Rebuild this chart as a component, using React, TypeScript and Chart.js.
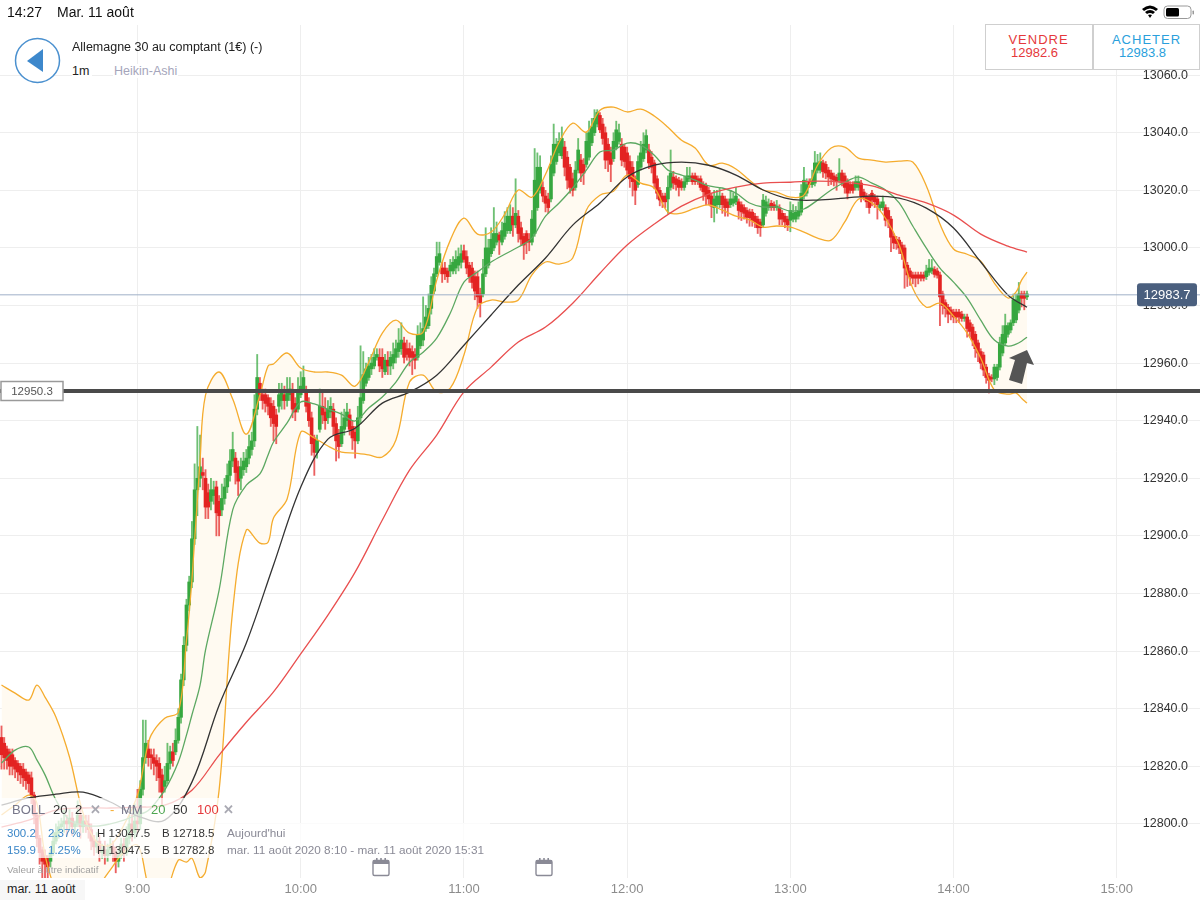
import React, { useEffect, useRef } from "react";
import { Chart, registerables } from "chart.js";

Chart.register(...registerables);

// Candles, one per minute from 8:10 (index 0).
const candleOpen = [
12830,12828,12826,12825,12824,12822,12821,12820,12819,12818,
12817,12816,12810,12803,12795,12791,12789,12788,12787,12790,
12794,12797,12799,12800,12801,12800,12802,12799,12800,12803,
12799,12801,12800,12798,12794,12792,12794,12790,12791,12789,
12791,12792,12790,12787,12789,12793,12790,12795,12800,12797,
12801,12800,12812,12823,12826,12824,12823,12822,12821,12817,
12813,12815,12821,12825,12825,12829,12837,12850,12862,12876,
12884,12899,12916,12920,12922,12920,12915,12912,12914,12917,
12912,12909,12913,12917,12921,12926,12927,12924,12920,12923,
12924,12927,12930,12933,12944,12953,12949,12949,12948,12946,
12945,12942,12945,12947,12949,12947,12949,12950,12946,12944,
12949,12951,12950,12946,12941,12934,12929,12937,12945,12943,
12941,12943,12944,12939,12935,12932,12937,12940,12942,12938,
12936,12933,12941,12947,12953,12955,12958,12959,12962,12962,
12962,12957,12961,12959,12960,12962,12964,12965,12967,12965,
12965,12964,12963,12962,12966,12968,12972,12973,12979,12985,
12991,12995,12993,12993,12992,12992,12992,12993,12994,12995,
12999,12997,12994,12993,12990,12990,12984,12984,12991,12994,
12998,13000,13002,13004.5,13002,13004,13006,13006,13011,13008,
13011,13007,13004,13005,13003,13002,13005,13014,13020,13021,
13018,13017,13017,13026,13030,13033,13032,13035,13031.5,13028,
13024,13021,13027,13030.5,13029,13029,13031.5,13036.5,13040,13043,
13046,13043,13040,13036,13033,13031,13035,13037,13036,13035,
13033,13030,13028,13024,13022,13028,13031,13034,13034,13031.5,
13029.5,13024,13020,13018,13018,13017,13021,13024.6,13024,13023.5,
13023,13021,13023,13024,13025,13025,13024,13024,13022,13021.5,
13020,13018,13014,13015,13015,13018,13017,13016,13015,13015.5,
13016,13016,13015,13014,13013,13012.5,13012.4,13011,13010,13009,
13008,13012,13014,13015.5,13015,13014,13014,13012,13011,13010,
13009.6,13010,13010,13011,13012.4,13018,13019,13023,13022,13022.5,
13027,13027,13029.5,13029,13027,13026,13025,13024.5,13023.5,13026,
13025,13023,13022,13022,13021,13021,13022.5,13019.4,13018,13017.6,
13019,13017.6,13017,13014,13014,13014,13013,13010,13004,13003,
13002.7,13001,13000,12994,12992,12990.6,12990.6,12990.6,12990.6,12990.6,
12990,12991.5,12992,12992.5,12992,12990.6,12984,12981,12979.4,12978.5,
12977.7,12977.7,12977.7,12977,12975.5,12976,12974,12972.5,12970,12967,
12964,12962.8,12958.6,12955.5,12955,12954.5,12955,12958.6,12963.5,12967,
12970,12971.5,12974,12975,12978.4,12984,12984,12983];

const candleClose = [
12824,12823,12822,12820,12820,12819,12818,12817,12816,12815,
12814,12810,12803,12795,12790,12787,12786,12785,12790,12794,
12797,12799,12800,12801,12800,12802,12799,12800,12803,12799,
12801,12800,12798,12794,12792,12794,12790,12791,12789,12791,
12792,12790,12787,12789,12793,12790,12795,12800,12797,12801,
12800,12812,12823,12828,12823,12823,12821,12820,12816,12811,
12815,12821,12825,12822,12829,12837,12850,12862,12876,12884,
12899,12916,12920,12924,12921,12910,12910,12916,12916,12908,
12907,12913,12917,12921,12926,12930,12922,12919,12924,12926,
12927,12931,12933,12944,12955,12949,12947,12946,12945,12941,
12939,12938,12949,12950,12947,12950,12951,12944,12943,12950,
12952,12955,12945,12940,12932,12929,12933,12945,12942,12940,
12944,12945,12938,12933,12931,12938,12941,12943,12937,12934,
12933,12941,12948,12956,12958,12959,12960,12962,12963,12959,
12958,12961,12959,12962,12963,12965,12967,12968,12962,12963,
12962,12962,12961,12970,12970,12972,12976,12979,12987,12991,
12997,12998,12991,12991,12990,12994,12995,12996,12997,12998,
12996,12993,12990,12988,12985,12983,12981,12991,13000,13000,
13003,13005,13005,13002.7,13006,13008.6,13011,13011,13008,13012,
13005,13003,13001,13002,13002,13010,13023.5,13028,13028,13018,
13015.5,13014,13029,13036,13036,13037,13038,13028,13023.5,13021,
13020,13027,13034,13026,13026,13037,13040,13042,13045,13047,
13041,13038,13030.5,13030.5,13029,13037,13041,13040,13030.5,13030,
13027,13024,13023,13020,13030,13033,13036,13039,13029.5,13028,
13022.5,13019,13016.6,13016,13016,13021,13026,13022.5,13022,13021,
13021,13023,13025,13025,13023,13023,13023,13021,13019.5,13018,
13017,13014.5,13017,13018,13018,13015,13014,13014,13017,13017,
13018,13013,13012.5,13012,13010.6,13010.5,13009.5,13009,13007,13007,
13016.6,13016,13015,13014,13014,13014.5,13010,13010,13009,13008,
13013,13012,13012.4,13013,13019,13023.5,13022,13022,13024,13029.5,
13029.5,13030,13026.5,13026,13024.6,13024,13023.5,13023,13026,13022.5,
13021,13019,13020,13020,13023,13023,13018,13017.6,13016,13014,
13016.6,13016,13015,13015,13016,13009.6,13010,13003.7,13001.7,13001.5,
13000,12998,12993,12990.6,12990,12989.5,12989.5,12989.5,12989.5,12989.5,
12992,12993,12993,12990.8,12990.5,12983,12980,12979,12977,12977,
12976,12976,12976,12975.5,12976,12972,12971,12968,12965,12963.5,
12960,12957.6,12955,12954,12954.5,12958.6,12958.6,12967,12970,12973,
12973,12974,12982,12982,12984,12982.5,12982.5,12984];

// Shadow length above the top and below the bottom of each body.
const wickUp = [
4,2,1,1,2,1,1,1,2,1, 1,2,1,1,1,1,2,1,1,3, 3,2,2,4,2,3,2,1,5,3, 2,2,3,2,2,3,2,2,3,2,
3,2,2,3,2,2,4,3,3,6, 11,3,13,8,3,2,3,2,2,2, 5,7,2,3,4,3,2,3,2,2, 6,9,18,11,5,3,3,4,3,2,
2,5,3,4,4,6,2,2,3,3, 3,4,3,5,8,2,2,2,1,2, 2,2,4,3,3,5,4,3,2,5, 5,4,2,2,2,1,2,6,5,5,
3,3,2,2,2,5,3,3,2,2, 2,4,18,8,2,3,3,3,2,3, 3,2,3,2,4,3,5,6,2,3, 2,2,2,3,4,11,4,5,3,2,
5,4,2,2,1,2,2,3,3,3, 2,2,1,2,2,2,2,5,7,3, 4,9,4,1,3,4,3,4,3,12, 2,2,1,1,2,3,11,5,4,2,
2,2,3,7,2,3,4,2,2,1, 2,3,4,2,2,3,4,3,3,1, 1,2,2,2,2,3,3,3,2,1, 2,2,2,1,2,4,4,2,2,2,
1,1,1,1,1,4,8,2,1,1, 1,2,3,3,1,1,1,1,1,1, 1,1,3,2,3,1,1,1,3,2, 3,1,1,1,1,1,1,1,1,1,
2,2,2,1,1,2,1,1,1,1, 3,3,2,3,3,4.5,2,1,3,4, 3,3,1,1,1,1,1,1,5,1, 1,1,1,1,2,2,1,1,1,1,
1,1,1,1,2,1,1,1,1,1, 1,1,1,1,1,1,1,1,1,1, 2,3,3,1,1,1,1,1,1,1, 1,1,1,1,1,1,1,1,1,1,
1,1,1,1,1,1,1,2,3,4, 1,1,2,2,4,1,1,1];

const wickDown = [
5,4,3,3,3,3,3,3,3,3, 3,3,3,3,4,6,5,5,2,1, 1,2,1,3,4,2,3,2,1,4, 2,3,3,3,3,2,3,2,3,2,
2,3,4,2,1,3,1,2,3,2, 3,2,2,2,3,4,4,5,5,5, 2,1,2,2,1,1,2,2,2,2, 2,2,9,3,5,4,4,3,3,8,
7,2,2,2,2,2,4,5,4,2, 2,2,2,2,2,2,3,3,3,3, 6,6,2,3,3,2,2,3,3,1, 1,1,2,2,4,8,2,1,3,3,
2,2,3,7,4,1,2,2,2,4, 6,1,2,1,1,1,2,1,1,2, 3,1,3,3,2,2,2,2,2,2, 3,6,3,1,1,2,1,1,2,1,
1,1,3,2,2,2,1,2,2,2, 1,2,2,2,3,4,5,1,1,1, 1,1,1,5,1,1,1,1,4,1, 3,2,5,4,3,1,1,1,1,2,
3,2,1,1,1,1,1,3,3,2, 2,1,1,3,4,1,1,1,1,1, 1,2,3,4,6,1,1,1,2,2, 2,3,5,5,1,1,1,1,2,2,
2,2,2,2,2,5,1,2,2,3, 1,1,1,1,1,1,1,1,3,3, 2,4,5,3,1,3,3,3,1,1, 1,3,3,2,2,3,2,2,2,3,
1,1,1,1,1,1,2,2,2,2, 4,1,1,1,1,1,1,1,1,1, 1,1,2,2,3,2,2,3,1,1, 2,2,1,1,1,1,2,1,2,2,
2,2,5,1,1,2,3,5,2,2, 2,2,7,4,3,2,3,2,1,1, 1,1,1,1,1,10,3,3,3,2, 2,2,2,1,1,3,2,2,3,3,
2,2,2,4.4,1,2,1,1,1,1, 1,1,1,1,1,3,4,1];

// Bollinger band and 20-period average, read at these minute indexes.
const bandMinutes = [0,5,10,13,16,20,25,30,35,40,45,50,53,55,60,65,68,70,73,75,80,85,90,95,98,100,105,110,115,120,125,130,135,140,145,150,155,160,165,170,175,180,185,190,195,200,205,210,215,220,225,230,235,240,245,250,255,260,265,270,275,280,285,290,295,300,305,310,315,320,325,330,335,340,345,350,355,360,365,370,373,375,377];

const bollUpper = [12848.2,12845.4,12843,12848.2,12844,12837.1,12823.2,12803.7,12793.7,12792.6,12799.6,12810,12823.9,12830.8,12836.7,12838.8,12863.8,12884.7,12926.3,12948.9,12956.9,12947.5,12935.3,12948.9,12959,12959.7,12963.5,12958.3,12956.9,12956.9,12955.8,12952,12960.3,12970.4,12974.9,12970.4,12970.8,12988.8,13002.7,13010.3,13004.8,13005.5,13011.7,13020.1,13017.6,13025.6,13036.7,13043.3,13040.2,13047.8,13048.9,13047.2,13048.2,13045.8,13041.9,13037.4,13034.7,13028.7,13029.4,13027.4,13023.5,13020.1,13019.4,13017.6,13018.3,13028.7,13034.7,13035,13031.2,13030.5,13029.8,13030.1,13029.8,13021.5,13008.3,12999.6,12997.8,12995.4,12987.8,12982.6,12984.7,12988.8,12991.6];

const bollLower = [12803.1,12806.5,12810,12807.2,12789.2,12777,12771.8,12773.5,12777.7,12784,12790.2,12792.6,12782.2,12771.8,12775.3,12787.4,12786.7,12788.1,12781.2,12783.3,12811.7,12874.2,12902,12897.5,12897.8,12906.2,12912.8,12936,12934,12931.2,12929.1,12928.7,12928.1,12927.4,12933.3,12953.4,12955.8,12950,12951.3,12962.8,12979.4,12981.9,12981.2,12981.9,12990.6,12995.1,12994.4,12996.5,13013.1,13018.3,13019.7,13025.3,13022.5,13020.8,13012.4,13012.1,13013.8,13014.9,13013.1,13011,13009.7,13007.2,13007.6,13007.2,13005.5,13003.4,13002.7,13009,13016.9,13015.6,13010.3,13001,12986,12979.4,12980.8,12976.3,12970.4,12961.7,12950.6,12949.2,12949.6,12947.8,12946.1];

const ma20 = [12821.1,12825.6,12826.7,12822.2,12817,12808.3,12801.3,12799.6,12799.2,12800,12801.3,12803.1,12804.1,12805.5,12811.7,12821.5,12830.8,12837.8,12848.2,12860.3,12881.2,12909,12917.6,12921.5,12928.1,12932.6,12939.2,12946.5,12945.8,12944,12942.3,12939.9,12944.4,12948.2,12953.4,12960.3,12963.8,12968.7,12977.4,12988.1,12991.6,12995.1,12997.8,13000.3,13003.4,13011,13015.6,13020.8,13027,13033.3,13034,13036.4,13035.7,13032.2,13027,13025.3,13023.5,13021.5,13020.8,13019,13015.6,13014.2,13014.2,13012.8,13013.5,13016.6,13020.1,13022.8,13024.6,13022.5,13020.1,13015.6,13007.6,12999.9,12993,12988.1,12982.6,12974.9,12968,12965.9,12966.6,12967.6,12969];

// Slow averages, read at these minute indexes.
const slowMinutes = [0,10,20,30,40,50,60,70,80,90,100,110,120,130,140,150,160,170,180,190,200,210,220,230,240,250,260,270,280,290,300,310,320,330,340,350,360,370,377];

const ma50 = [12806.5,12809,12810.3,12811,12807.6,12802.7,12801.3,12814.5,12841.2,12862.8,12889.9,12916.9,12933.6,12937.4,12946.1,12949.9,12955.8,12966.2,12976.7,12987.1,12996.5,13007.9,13015.6,13024.6,13028.7,13029.8,13028.7,13025.3,13020.1,13016.9,13016.6,13017.3,13018,13017.3,13013.8,13006.9,12995.1,12983.6,12979.4];

const ma100 = [12798.9,12801.3,12804.8,12805.5,12805.5,12805.8,12806.5,12811.7,12823.9,12835.3,12845.8,12859,12872.5,12887.4,12905.5,12922.8,12935,12950,12958.6,12967.3,12972.5,12980.8,12991.2,13001,13008.3,13014.5,13018.7,13021.1,13022.5,13022.8,13023.2,13022.8,13021.5,13018.3,13015.6,13011.4,13004.8,13000.6,12998.5];

const supportLevel = 12950.3;
const currentLevel = 12983.7;
const priceTicks = [12800,12820,12840,12860,12880,12900,12920,12940,12960,12980,13000,13020,13040,13060];
const hourTicks = [50,110,170,230,290,350,410];
const hourLabels = ["9:00","10:00","11:00","12:00","13:00","14:00","15:00"];

const FONT = '"Liberation Sans", Arial, sans-serif';
const X_MIN = -0.55;
const X_MAX = 440.6;
const GREEN = "#36a73f";
const RED = "#e32322";

const pts = (xs: number[], ys: number[]) => xs.map((x, i) => ({ x, y: ys[i] }));

const tagsPlugin = {
  id: "priceTags",
  afterDraw(chart: any) {
    const { ctx, scales } = chart;
    const sy = scales.y.getPixelForValue(supportLevel);
    const cy = scales.y.getPixelForValue(currentLevel);
    ctx.save();
    ctx.textBaseline = "middle";
    ctx.textAlign = "center";
    ctx.fillStyle = "#ffffff";
    ctx.strokeStyle = "#9a9a9a";
    ctx.lineWidth = 1.5;
    ctx.beginPath();
    ctx.rect(1, sy - 9.5, 62, 19);
    ctx.fill();
    ctx.stroke();
    ctx.fillStyle = "#555555";
    ctx.font = `11.5px ${FONT}`;
    ctx.fillText(supportLevel.toFixed(1), 32, sy + 0.5);
    ctx.fillStyle = "#4a5f7e";
    ctx.beginPath();
    ctx.roundRect(1137, cy - 11.5, 60, 23, 3);
    ctx.fill();
    ctx.fillStyle = "#ffffff";
    ctx.font = `13px ${FONT}`;
    ctx.fillText(currentLevel.toFixed(1), 1167, cy + 0.5);
    ctx.restore();
  },
};

const abs = (x: number, y: number, extra: React.CSSProperties = {}): React.CSSProperties => ({
  position: "absolute",
  left: x,
  top: y,
  whiteSpace: "nowrap",
  lineHeight: "14px",
  ...extra,
});

function Calendar({ x }: { x: number }) {
  return (
    <svg style={{ position: "absolute", left: x, top: 857 }} width="20" height="20" viewBox="0 0 20 20">
      <rect x="2" y="3.5" width="16" height="15" rx="1.5" fill="#fff" stroke="#8a8a96" strokeWidth="1.4" />
      <rect x="2" y="3.5" width="16" height="3.5" fill="#8a8a96" />
      <rect x="5" y="1" width="1.6" height="4" fill="#8a8a96" />
      <rect x="9.2" y="1" width="1.6" height="4" fill="#8a8a96" />
      <rect x="13.4" y="1" width="1.6" height="4" fill="#8a8a96" />
    </svg>
  );
}

export default function App() {
  const ref = useRef<HTMLCanvasElement>(null);

  useEffect(() => {
    const minutes = candleOpen.map((_, i) => i);
    const top = candleOpen.map((o, i) => Math.max(o, candleClose[i]));
    const bottom = candleOpen.map((o, i) => Math.min(o, candleClose[i]));
    const rising = candleOpen.map((o, i) => candleClose[i] >= o);
    const line = (data: any[], color: string, width: number, order: number, tension = 0.35) => ({
      type: "line" as const,
      data,
      borderColor: color,
      borderWidth: width,
      pointRadius: 0,
      tension,
      fill: false,
      order,
    });
    const chart = new Chart(ref.current as HTMLCanvasElement, {
      type: "bar",
      data: {
        datasets: [
          {
            ...line(pts(bandMinutes, bollUpper), "rgba(0,0,0,0)", 0, 20),
            fill: "+1",
            backgroundColor: "#fffaf1",
          },
          line(pts(bandMinutes, bollLower), "rgba(0,0,0,0)", 0, 20),
          {
            type: "bar" as const,
            data: minutes.map((x) => ({ x, y: [bottom[x] - wickDown[x], top[x] + wickUp[x]] })),
            backgroundColor: rising.map((r) => (r ? "rgba(54,167,63,0.72)" : "rgba(227,35,34,0.72)")),
            barThickness: 1.2,
            grouped: false,
            order: 10,
          },
          {
            type: "bar" as const,
            data: minutes.map((x) => ({ x, y: [bottom[x], top[x]] })),
            backgroundColor: rising.map((r) => (r ? GREEN : RED)),
            barThickness: 3,
            minBarLength: 1.5,
            grouped: false,
            order: 9,
          },
          line(pts(bandMinutes, bollUpper), "#f5ac2e", 1.3, 5),
          line(pts(bandMinutes, bollLower), "#f5ac2e", 1.3, 5),
          line(pts(bandMinutes, ma20), "#5ca862", 1.3, 4),
          line(pts(slowMinutes, ma50), "#333333", 1.3, 3),
          line(pts(slowMinutes, ma100), "#e94f4f", 1.3, 3),
          line([{ x: X_MIN, y: currentLevel }, { x: X_MAX, y: currentLevel }], "#9fb0c8", 1, 2, 0),
          line([{ x: X_MIN, y: supportLevel }, { x: X_MAX, y: supportLevel }], "#4a4a4a", 4, 1, 0),
        ] as any,
      },
      options: {
        responsive: false,
        animation: false,
        events: [],
        layout: { padding: { top: 25, left: 0, right: 0, bottom: 0 } },
        plugins: { legend: { display: false }, tooltip: { enabled: false } },
        scales: {
          x: {
            type: "linear",
            offset: false,
            min: X_MIN,
            max: X_MAX,
            afterFit: (s: any) => {
              s.height = 22;
            },
            afterBuildTicks: (s: any) => {
              s.ticks = hourTicks.map((value) => ({ value }));
            },
            grid: { color: "#eeeeee", offset: false, drawTicks: false, lineWidth: 1 },
            border: { display: false },
            ticks: {
              autoSkip: false,
              maxRotation: 0,
              padding: 4,
              color: "#8c8c8c",
              font: { family: FONT, size: 13 },
              callback: (v: any) => hourLabels[hourTicks.indexOf(Number(v))] ?? "",
            },
          },
          y: {
            type: "linear",
            position: "right",
            min: 12781.2,
            max: 13077.4,
            afterFit: (s: any) => {
              s.width = 0;
            },
            afterBuildTicks: (s: any) => {
              s.ticks = priceTicks.map((value) => ({ value }));
            },
            grid: { color: "#eeeeee", drawTicks: false, lineWidth: 1 },
            border: { display: false },
            ticks: {
              mirror: true,
              padding: -12,
              color: "#333333",
              font: { family: FONT, size: 12.5 },
              callback: (v: any) => Number(v).toFixed(1),
            },
          },
        },
      } as any,
      plugins: [tagsPlugin],
    });
    return () => chart.destroy();
  }, []);

  const small: React.CSSProperties = { fontSize: 11.5, color: "#333" };
  const blue: React.CSSProperties = { fontSize: 11.5, color: "#3a86c8" };
  const grey: React.CSSProperties = { fontSize: 11.75, color: "#8a8a96" };
  const legend: React.CSSProperties = { fontSize: 13, color: "#333" };

  return (
    <div style={{ position: "absolute", left: 0, top: 0, width: 1200, height: 900, background: "#fff", fontFamily: FONT, overflow: "hidden" }}>
      <canvas ref={ref} width={1200} height={900} style={{ position: "absolute", left: 0, top: 0, display: "block" }} />

      {/* Status bar */}
      <div style={abs(7, 5, { fontSize: 14, color: "#111" })}>14:27</div>
      <div style={abs(57, 5, { fontSize: 14, color: "#111" })}>Mar. 11 août</div>
      <svg style={{ position: "absolute", left: 1140, top: 3 }} width="58" height="18" viewBox="0 0 58 18">
        <path d="M2 6 Q10 -1 18 6 L16 8 Q10 3 4 8 Z M5 9 Q10 5 15 9 L13 11 Q10 9 7 11 Z M8 12 Q10 11 12 12 L10 15 Z" fill="#000" />
        <rect x="24" y="3" width="27" height="12.5" rx="3.5" fill="#fff" stroke="#999" strokeWidth="1" />
        <rect x="26" y="5" width="13" height="8.5" rx="1.5" fill="#000" />
        <rect x="52.5" y="7.5" width="1.5" height="4" rx="0.7" fill="#999" />
      </svg>

      {/* Instrument header */}
      <svg style={{ position: "absolute", left: 14, top: 37 }} width="48" height="48" viewBox="0 0 48 48">
        <circle cx="23.5" cy="23.5" r="22" fill="#fff" stroke="#4a90cf" strokeWidth="1.5" />
        <path d="M13 24 L29 12 L29 35 Z" fill="#3d88cc" />
      </svg>
      <div style={abs(72, 40, { fontSize: 12.5, color: "#222" })}>Allemagne 30 au comptant (1€) (-)</div>
      <div style={abs(72, 64, { fontSize: 12.5, color: "#222", background: "#fff", paddingRight: 3 })}>1m</div>
      <div style={abs(113, 64, { fontSize: 12.5, color: "#a5a5bb", background: "#fff", padding: "0 1px" })}>Heikin-Ashi</div>

      {/* Deal buttons */}
      <div style={{ position: "absolute", left: 985, top: 24, width: 215, height: 46, background: "#fff", border: "1.5px solid #cfcfcf", boxSizing: "border-box" }} />
      <div style={{ position: "absolute", left: 1092, top: 24, width: 1.5, height: 46, background: "#cfcfcf" }} />
      <div style={abs(985, 33, { width: 107, textAlign: "center", fontSize: 13, letterSpacing: 1, color: "#e5383b" })}>VENDRE</div>
      <div style={abs(985, 46, { width: 107, textAlign: "center", fontSize: 13, color: "#e5383b", paddingRight: 8, boxSizing: "border-box" })}>12982.6</div>
      <div style={abs(1093, 33, { width: 107, textAlign: "center", fontSize: 13, letterSpacing: 1, color: "#2a9fdc" })}>ACHETER</div>
      <div style={abs(1093, 46, { width: 107, textAlign: "center", fontSize: 13, color: "#2a9fdc", paddingRight: 8, boxSizing: "border-box" })}>12983.8</div>

      {/* Arrow */}
      <svg style={{ position: "absolute", left: 1000, top: 345 }} width="40" height="45" viewBox="0 0 40 45">
        <polygon points="27,5 34,20 27,18 22,39 9,35 15,15 9,13" fill="#555555" />
      </svg>

      {/* Indicators panel */}
      <div style={{ position: "absolute", left: 0, top: 798, width: 240, height: 25, background: "rgba(255,255,255,0.75)" }} />
      <div style={{ position: "absolute", left: 0, top: 823, width: 490, height: 35, background: "rgba(255,255,255,0.75)" }} />
      <div style={abs(12, 803, { ...legend, color: "#77778a" })}>BOLL</div>
      <div style={abs(53, 803, legend)}>20</div>
      <div style={abs(75, 803, legend)}>2</div>
      <div style={abs(90, 803, { ...legend, color: "#a9a9b2", fontWeight: 700 })}>✕</div>
      <div style={abs(110, 803, { ...legend, color: "#f5ac2e" })}>-</div>
      <div style={abs(121, 803, { ...legend, color: "#77778a" })}>MM</div>
      <div style={abs(151, 803, { ...legend, color: "#4da650" })}>20</div>
      <div style={abs(173, 803, legend)}>50</div>
      <div style={abs(197, 803, { ...legend, color: "#e5383b" })}>100</div>
      <div style={abs(223, 803, { ...legend, color: "#a9a9b2", fontWeight: 700 })}>✕</div>

      <div style={abs(7, 826, blue)}>300.2</div>
      <div style={abs(48, 826, blue)}>2.37%</div>
      <div style={abs(97, 826, small)}>H 13047.5</div>
      <div style={abs(162, 826, small)}>B 12718.5</div>
      <div style={abs(227, 826, grey)}>Aujourd'hui</div>
      <div style={abs(7, 843, blue)}>159.9</div>
      <div style={abs(48, 843, blue)}>1.25%</div>
      <div style={abs(97, 843, small)}>H 13047.5</div>
      <div style={abs(162, 843, small)}>B 12782.8</div>
      <div style={abs(227, 843, grey)}>mar. 11 août 2020 8:10 - mar. 11 août 2020 15:31</div>

      <div style={abs(7, 863, { fontSize: 9.9, color: "#a0a0a0" })}>Valeur à titre indicatif</div>
      <Calendar x={371} />
      <Calendar x={534} />
      <div style={abs(0, 880, { fontSize: 12.5, color: "#222", background: "#f7f7f7", padding: "2px 9px 4px 7px" })}>mar. 11 août</div>
    </div>
  );
}
